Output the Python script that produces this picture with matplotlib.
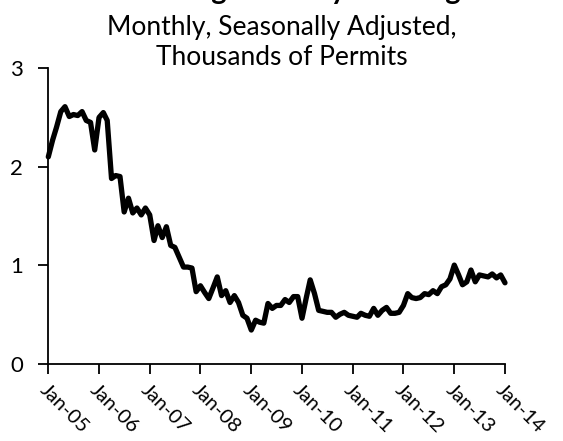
import matplotlib
matplotlib.use("Agg")
import matplotlib.pyplot as plt
import pandas as pd

# monthly single-family permits, thousands, Jan-05 .. Jan-14
months = pd.date_range("2005-01-01", "2014-01-01", freq="MS")
permits = [
    2.10, 2.27, 2.40, 2.56, 2.61, 2.51, 2.53, 2.52, 2.56, 2.47, 2.45, 2.17,
    2.50, 2.55, 2.47, 1.88, 1.91, 1.90, 1.54, 1.68, 1.53, 1.58, 1.51, 1.58,
    1.51, 1.25, 1.40, 1.28, 1.39, 1.20, 1.18, 1.08, 0.98, 0.98, 0.97, 0.73,
    0.79, 0.72, 0.66, 0.77, 0.88, 0.69, 0.74, 0.62, 0.69, 0.62, 0.49, 0.46,
    0.34, 0.44, 0.42, 0.41, 0.61, 0.56, 0.59, 0.59, 0.65, 0.62, 0.68, 0.68,
    0.46, 0.67, 0.85, 0.71, 0.54, 0.53, 0.52, 0.52, 0.47, 0.50, 0.52, 0.49,
    0.48, 0.47, 0.51, 0.49, 0.48, 0.56, 0.49, 0.54, 0.57, 0.51, 0.51, 0.52,
    0.59, 0.71, 0.67, 0.66, 0.67, 0.71, 0.70, 0.74, 0.71, 0.78, 0.80, 0.86,
    1.00, 0.90, 0.80, 0.83, 0.95, 0.83, 0.90, 0.89, 0.88, 0.91, 0.87, 0.90,
    0.82,
]
tick_dates = pd.date_range("2005-01-01", "2014-01-01", freq="YS")
tick_labels = ["Jan-05", "Jan-06", "Jan-07", "Jan-08", "Jan-09",
               "Jan-10", "Jan-11", "Jan-12", "Jan-13", "Jan-14"]
y_ticks = [0, 1, 2, 3]

title = "New Single-Family Housing"
subtitle = ["Monthly, Seasonally Adjusted,", "Thousands of Permits"]

plt.rcParams['font.family'] = ['Lato', 'DejaVu Sans']

W, H = 563, 441
fig = plt.figure(figsize=(W / 100, H / 100), dpi=100)
ax = fig.add_axes([48.3 / W, (H - 363.5) / H, (505 - 48.3) / W, (363.5 - 68.3) / H])

ax.plot(months, permits, color="black", linewidth=3.8,
        solid_joinstyle="round", solid_capstyle="round", clip_on=False)

ax.set_xlim(months[0], months[-1])
ax.set_ylim(0, 3)
ax.set_yticks(y_ticks)
ax.set_xticks(tick_dates)
ax.set_xticklabels(tick_labels, rotation=-45, ha="left", rotation_mode="anchor")

for side in ("top", "right"):
    ax.spines[side].set_visible(False)
for side in ("left", "bottom"):
    ax.spines[side].set_linewidth(1.3)
    ax.spines[side].set_color("black")
ax.tick_params(axis="both", direction="out", length=7, width=1.3,
               colors="black")
ax.tick_params(axis="y", pad=11, labelsize=16)
ax.tick_params(axis="x", pad=6, labelsize=14.5)

# title sits mostly above the canvas, as in the source image
fig.text(0.5, 1 + 1 / H, title, ha="center", va="baseline",
         fontsize=21, fontweight="bold")
fig.text(0.5, 1 - 35 / H, subtitle[0], ha="center", va="baseline", fontsize=19)
fig.text(0.5, 1 - 65 / H, subtitle[1], ha="center", va="baseline", fontsize=19)

fig.savefig("out.png", dpi=100)
